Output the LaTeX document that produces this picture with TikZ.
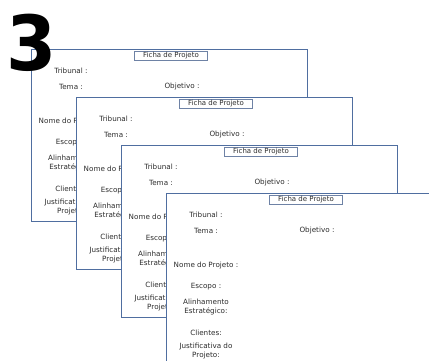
\documentclass[tikz,border=0pt]{standalone}
\usepackage{fontspec}
\setmainfont{DejaVu Sans}
\usepackage{tikz}
\usepackage{xcolor}

\definecolor{cardblue}{RGB}{79,110,160}
\definecolor{boxblue}{RGB}{110,130,165}
\definecolor{txtgray}{RGB}{45,45,45}

\tikzset{
	card/.style={draw=cardblue,line width=1.1pt,fill=white,anchor=north west,
		minimum width=276pt,minimum height=172pt,inner sep=0pt},
	titlebox/.style={draw=boxblue,line width=0.8pt,fill=white,minimum width=73pt,
		minimum height=8.5pt,inner sep=0pt,font=\fontsize{7}{8}\selectfont,text=txtgray},
	field/.style={font=\fontsize{7.2}{9}\selectfont,text=txtgray,align=center,inner sep=0pt}
}

\begin{document}
\begin{tikzpicture}[x=1pt,y=1pt]
			\clip (0,0) rectangle (429,-360);
			\fill[white] (0,0) rectangle (429,-360);
			\foreach \i in {0,1,2,3}
			{
				\begin{scope}[shift={(31+45*\i,-49-48*\i)}]
					\node[card] (card\i) at (0,0) {};
					\node[titlebox] (ficha\i) at (140,-7) {Ficha de Projeto};
					\node[field] (trib\i) at (40,-22) {Tribunal :};
					\node[field] (tema\i) at (40,-38) {Tema :};
					\node[field] (obj\i) at (151,-38) {Objetivo :};
					\node[field] (nome\i) at (40,-73) {Nome do Projeto :};
					\node[field] (esc\i) at (40,-94) {Escopo :};
					\node[field] (alin\i) at (40,-114.5) {Alinhamento\\Estratégico:};
					\node[field] (cli\i) at (40,-140) {Clientes:};
					\node[field] (just\i) at (40,-158.5) {Justificativa do\\Projeto:};
				\end{scope}
			}
			\node[font=\fontsize{76}{76}\selectfont\bfseries,inner sep=0pt,xscale=0.95] (num) at (32,-42.5) {3};
		\end{tikzpicture}
\end{document}
